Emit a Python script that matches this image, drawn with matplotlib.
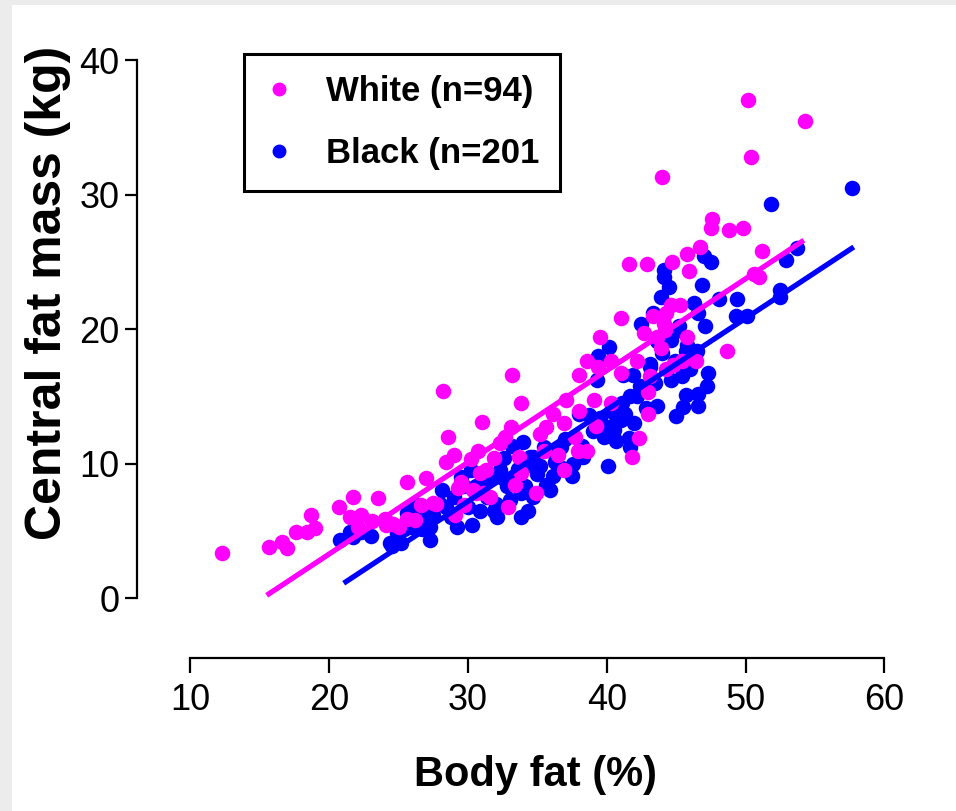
import matplotlib
matplotlib.use("Agg")
import matplotlib.pyplot as plt
from matplotlib.lines import Line2D
from matplotlib.patches import Rectangle

# White group (magenta)
white_x = [12.3, 15.7, 16.6, 17.0, 17.6, 18.4, 18.7, 19.0, 20.7, 21.7, 21.5, 22.3,
           22.1, 23.1, 23.5, 24.1, 24.0, 25.0, 25.6, 25.6, 26.2, 26.6, 27.0, 27.5,
           28.4, 28.6, 29.0, 28.2, 29.5, 29.3, 29.7, 29.1, 30.4, 30.7, 31.0, 31.3,
           30.9, 31.6, 31.9, 33.2, 33.8, 33.1, 32.7, 32.3, 30.2, 33.7, 35.2, 33.8,
           33.4, 31.1, 30.6, 27.7, 32.9, 34.9, 24.6, 41.0, 43.3, 44.3, 45.3, 44.6,
           42.7, 39.5, 43.6, 43.9, 45.8, 46.4, 45.4, 44.8, 44.3, 38.6, 39.4, 40.3,
           42.2, 41.0, 38.0, 43.0, 43.0, 39.1, 40.3, 37.1, 38.0, 36.1, 36.9, 35.6,
           39.2, 37.7, 42.3, 38.6, 37.9, 41.8, 35.5, 36.5, 36.9, 50.4, 44.0, 47.6,
           47.5, 48.8, 49.8, 46.7, 45.8, 51.2, 42.9, 44.7, 45.9, 50.6, 51.0, 44.1,
           44.2, 48.7, 43.1, 50.2, 54.3, 41.6]
white_y = [3.35, 3.8, 4.2, 3.7, 4.9, 4.9, 6.2, 5.2, 6.8, 7.5, 6.0, 6.2,
           5.3, 5.7, 7.4, 5.4, 5.9, 5.3, 5.9, 8.6, 5.8, 6.9, 8.9, 7.1,
           10.1, 12.0, 10.6, 15.4, 8.6, 8.2, 6.9, 6.2, 8.0, 10.9, 13.1, 9.5,
           9.3, 7.5, 10.4, 16.6, 14.5, 12.7, 12.0, 11.5, 10.3, 10.5, 12.2, 9.3,
           8.4, 7.8, 7.8, 7.0, 6.8, 7.8, 5.5, 20.8, 21.0, 21.2, 21.8, 21.8,
           19.7, 19.4, 19.4, 18.6, 19.4, 17.6, 17.6, 17.3, 17.0, 17.6, 17.2, 17.6,
           17.6, 16.7, 16.6, 15.3, 13.7, 14.7, 14.5, 14.7, 13.9, 13.7, 13.0, 12.7,
           12.8, 12.0, 11.9, 10.9, 10.9, 10.5, 10.9, 10.6, 9.5, 32.8, 31.3, 28.2,
           27.5, 27.4, 27.5, 26.1, 25.6, 25.8, 24.8, 25.0, 24.3, 24.1, 23.9, 20.4,
           19.9, 18.4, 16.5, 37.0, 35.5, 24.8]

# Black group (blue)
black_x = [57.7, 51.8, 53.7, 52.9, 47.0, 47.5, 44.1, 44.1, 46.9, 44.5, 43.9, 48.1,
           49.4, 52.5, 52.5, 46.3, 46.6, 47.1, 49.3, 50.1, 42.5, 44.8, 44.6, 43.6,
           45.8, 46.5, 44.0, 43.1, 46.0, 45.4, 44.6, 47.3, 47.2, 45.7, 46.6, 45.5,
           46.6, 45.0, 43.6, 42.8, 42.4, 40.2, 39.4, 39.3, 41.9, 41.2, 43.1, 45.7,
           41.7, 41.1, 41.3, 40.7, 41.0, 38.0, 38.7, 39.5, 40.0, 40.5, 39.8, 40.7,
           41.6, 41.7, 40.1, 38.2, 38.3, 37.6, 36.7, 36.2, 36.3, 34.5, 35.2, 34.3,
           37.5, 36.1, 35.9, 35.6, 33.8, 42.9, 33.2, 34.7, 32.6, 32.3, 31.6, 32.8,
           34.2, 34.1, 34.7, 30.2, 29.5, 28.1, 29.7, 30.6, 31.4, 32.0, 30.9, 32.1,
           33.8, 34.3, 30.3, 29.2, 28.4, 27.5, 27.3, 27.3, 26.1, 26.3, 25.6, 25.4,
           24.4, 24.9, 25.9, 26.7, 28.0, 20.8, 21.5, 21.7, 24.5, 25.2,
           31.0, 32.5, 33.5, 35.0, 31.9, 33.0, 29.0, 28.8, 26.9, 30.0, 36.8, 37.0,
           39.0, 40.3, 42.0, 42.2, 43.5, 44.9, 45.2, 43.3, 35.5, 34.0, 33.6, 23.0,
           22.3]
black_y = [30.5, 29.3, 26.0, 25.1, 25.4, 25.0, 24.4, 23.9, 23.3, 23.1, 22.4, 22.2,
           22.2, 22.9, 22.4, 21.9, 21.2, 20.2, 21.0, 21.0, 20.4, 19.7, 19.2, 19.1,
           18.8, 18.4, 18.2, 17.4, 17.0, 16.5, 16.2, 16.7, 15.8, 15.1, 15.2, 14.2,
           14.3, 13.5, 14.3, 14.1, 15.8, 18.7, 18.0, 16.2, 16.6, 16.6, 17.2, 18.4,
           15.0, 14.5, 13.7, 13.5, 13.2, 13.7, 13.6, 13.4, 12.7, 12.5, 12.0, 11.7,
           11.9, 11.2, 9.8, 11.3, 10.5, 10.0, 11.2, 10.8, 10.1, 10.5, 9.8, 9.9,
           9.1, 9.1, 8.0, 8.4, 7.8, 15.5, 11.3, 10.5, 10.4, 9.5, 9.0, 8.3,
           10.0, 8.3, 7.5, 9.5, 9.0, 8.0, 8.3, 8.3, 7.5, 7.0, 6.5, 6.0,
           6.0, 6.5, 5.4, 5.3, 6.8, 6.2, 5.3, 4.3, 7.0, 6.0, 6.3, 5.1,
           4.1, 4.8, 5.3, 5.1, 7.0, 4.3, 4.9, 4.5, 3.9, 4.1,
           8.7, 8.9, 9.0, 9.2, 6.5, 7.3, 7.5, 6.0, 6.2, 6.8, 9.7, 11.8,
           12.4, 13.9, 13.0, 15.0, 16.0, 17.6, 20.2, 21.2, 11.2, 11.6, 9.6, 4.6,
           4.9]

# fitted lines, read at their ends
white_fit_x = [15.5, 54.2]
white_fit_y = [0.2, 26.6]
black_fit_x = [21.05, 57.8]
black_fit_y = [1.1, 26.1]

x_ticks = [10, 20, 30, 40, 50, 60]
y_ticks = [0, 10, 20, 30, 40]

MAGENTA = "#ff00ff"
BLUE = "#0000ff"

plt.rcParams['font.family'] = ['Liberation Sans', 'DejaVu Sans']

W, H = 956, 811
fig = plt.figure(figsize=(W / 100, H / 100), dpi=100, facecolor="#ececec")
fig.patches.append(Rectangle((12 / W, 0), 1, 1 - 5 / H, transform=fig.transFigure,
                             facecolor="white", edgecolor="none", zorder=-10))

ax = fig.add_axes([137.3 / W, (H - 658) / H, 763.4 / W, 618 / H])
ax.set_facecolor("none")
ax.set_xlim(6.18, 61.18)
ax.set_ylim(-4.46, 41.49)

ax.scatter(black_x, black_y, s=125, color=BLUE, linewidths=0, zorder=2)
ax.scatter(white_x, white_y, s=125, color=MAGENTA, linewidths=0, zorder=3)
ax.plot(black_fit_x, black_fit_y, color=BLUE, lw=3.8, solid_capstyle="butt", zorder=4)
ax.plot(white_fit_x, white_fit_y, color=MAGENTA, lw=3.8, solid_capstyle="butt", zorder=5)

for side in ["top", "right"]:
    ax.spines[side].set_visible(False)
ax.spines["left"].set_bounds(0, 40)
ax.spines["bottom"].set_bounds(10, 60)
ax.spines["left"].set_linewidth(1.6)
ax.spines["bottom"].set_linewidth(1.6)

ax.set_xticks(x_ticks)
ax.set_yticks(y_ticks)
ax.tick_params(axis="y", direction="out", length=9, width=1.6, pad=4, labelsize=26)
ax.tick_params(axis="x", direction="out", length=11, width=1.6, pad=7, labelsize=26)

fig.text(535 / W, 1 - 775 / H, "Body fat (%)", ha="center", va="center",
         fontsize=30, fontweight="bold")
fig.text(48 / W, 1 - 293 / H, "Central fat mass (kg)", ha="center", va="center",
         rotation=90, fontsize=36, fontweight="bold")

handles = [
    Line2D([], [], marker="o", ls="none", color=MAGENTA, markersize=9, label="White (n=94)"),
    Line2D([], [], marker="o", ls="none", color=BLUE, markersize=9, label="Black (n=201"),
]
leg = ax.legend(handles=handles, loc="upper left", bbox_to_anchor=(244 / W, 1 - 54 / H),
                bbox_transform=fig.transFigure, borderaxespad=0, fancybox=False,
                edgecolor="black", framealpha=1, prop={"size": 25, "weight": "bold"},
                handlelength=0.8, handletextpad=0.95, labelspacing=0.85, borderpad=0.6)
leg.get_frame().set_linewidth(2.2)

fig.savefig("out.png", dpi=100, facecolor=fig.get_facecolor())
